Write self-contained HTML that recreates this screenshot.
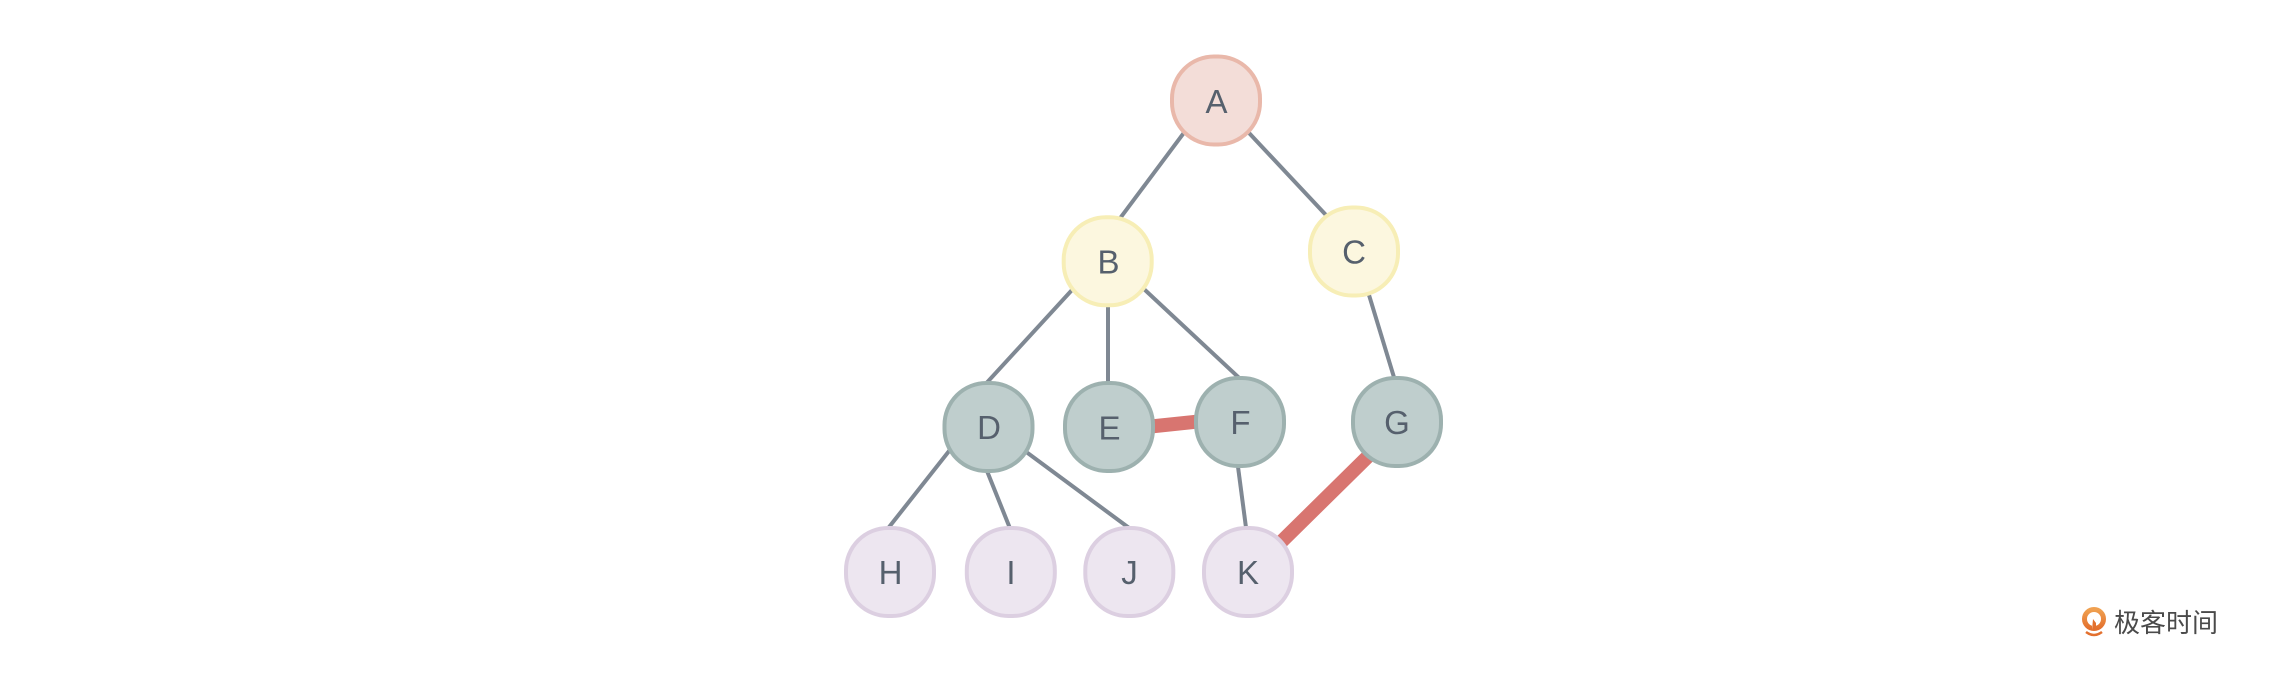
<!DOCTYPE html>
<html>
<head>
<meta charset="utf-8">
<style>
  html, body { margin: 0; padding: 0; background: #ffffff; }
  body { width: 2284px; height: 674px; overflow: hidden; }
  svg { display: block; }
  .lbl { font-family: "Liberation Sans", Arial, sans-serif; font-size: 33px; fill: #56606d; text-anchor: middle; dominant-baseline: central; }
  .logo { font-family: "Liberation Sans", "Noto Sans CJK SC", sans-serif; font-size: 26px; fill: #4a4a4a; }
</style>
</head>
<body>
<svg width="2284" height="674" viewBox="0 0 2284 674" xmlns="http://www.w3.org/2000/svg">
  <rect x="0" y="0" width="2284" height="674" fill="#ffffff"/>

  <!-- gray edges -->
  <g stroke="#7f8893" stroke-width="4" stroke-linecap="butt" fill="none">
    <line x1="1189.2" y1="125.7" x2="1114.8" y2="225.3"/>
    <line x1="1242.5" y1="126" x2="1332.5" y2="222"/>
    <line x1="1079.2" y1="282.1" x2="981.1" y2="388.9"/>
    <line x1="1108" y1="300" x2="1108" y2="390"/>
    <line x1="1135" y1="280.7" x2="1246" y2="384.3"/>
    <line x1="1366.9" y1="288.1" x2="1395.7" y2="382.9"/>
    <line x1="953.4" y1="445.5" x2="885" y2="532.2"/>
    <line x1="986.3" y1="469.2" x2="1010.7" y2="530.1"/>
    <line x1="1016.8" y1="445" x2="1135.9" y2="533"/>
    <line x1="1237.6" y1="463.7" x2="1246.4" y2="530.6"/>
  </g>

  <!-- red edges -->
  <g stroke="#d87570" stroke-width="14" stroke-linecap="butt" fill="none">
    <line x1="1140" y1="427.6" x2="1205" y2="420.8"/>
    <line x1="1375" y1="449.5" x2="1275" y2="548"/>
  </g>

  <!-- nodes -->
  <rect x="1172" y="56.5" width="88" height="88" rx="42" ry="42" fill="#f3ddd8" stroke="#e9b8aa" stroke-width="4"/>
  <text class="lbl" x="1216.5" y="101.5">A</text>

  <rect x="1063.7" y="217.3" width="88" height="88" rx="42" ry="42" fill="#fcf7df" stroke="#f7eeb6" stroke-width="4"/>
  <text class="lbl" x="1108.5" y="262">B</text>

  <rect x="1310" y="207.5" width="88" height="88" rx="42" ry="42" fill="#fcf7df" stroke="#f7eeb6" stroke-width="4"/>
  <text class="lbl" x="1354" y="252">C</text>

  <rect x="944.5" y="383" width="88" height="88" rx="42" ry="42" fill="#bfcecd" stroke="#9db1af" stroke-width="4"/>
  <text class="lbl" x="989" y="427.5">D</text>

  <rect x="1065" y="383" width="88" height="88" rx="42" ry="42" fill="#bfcecd" stroke="#9db1af" stroke-width="4"/>
  <text class="lbl" x="1109.5" y="428">E</text>

  <rect x="1196" y="378" width="88" height="88" rx="42" ry="42" fill="#bfcecd" stroke="#9db1af" stroke-width="4"/>
  <text class="lbl" x="1240.5" y="422.5">F</text>

  <rect x="1353" y="378" width="88" height="88" rx="42" ry="42" fill="#bfcecd" stroke="#9db1af" stroke-width="4"/>
  <text class="lbl" x="1397" y="422.5">G</text>

  <rect x="846" y="528" width="88" height="88" rx="42" ry="42" fill="#ede6f0" stroke="#dccfe1" stroke-width="4"/>
  <text class="lbl" x="890.5" y="572.5">H</text>

  <rect x="966.8" y="528" width="88" height="88" rx="42" ry="42" fill="#ede6f0" stroke="#dccfe1" stroke-width="4"/>
  <text class="lbl" x="1011" y="572.5">I</text>

  <rect x="1085.3" y="528" width="88" height="88" rx="42" ry="42" fill="#ede6f0" stroke="#dccfe1" stroke-width="4"/>
  <text class="lbl" x="1129.5" y="572.5">J</text>

  <rect x="1204" y="528" width="88" height="88" rx="42" ry="42" fill="#ede6f0" stroke="#dccfe1" stroke-width="4"/>
  <text class="lbl" x="1248" y="572.5">K</text>

  <!-- logo -->
  <defs>
    <linearGradient id="og" x1="0" y1="0" x2="0" y2="1">
      <stop offset="0" stop-color="#f0a050"/>
      <stop offset="1" stop-color="#e3702e"/>
    </linearGradient>
  </defs>
  <circle cx="2094" cy="619" r="9.5" fill="none" stroke="url(#og)" stroke-width="5"/>
  <rect x="2092" y="617" width="4" height="13" fill="#ffffff"/>
  <path d="M2092 630 L2093 619 L2096 623 L2096 630 Z" fill="#e3702e"/>
  <path d="M2086 632 Q2094 638 2102 632" fill="none" stroke="#e3702e" stroke-width="2.5"/>
  <text class="logo" x="2114" y="632">极客时间</text>
</svg>
</body>
</html>
